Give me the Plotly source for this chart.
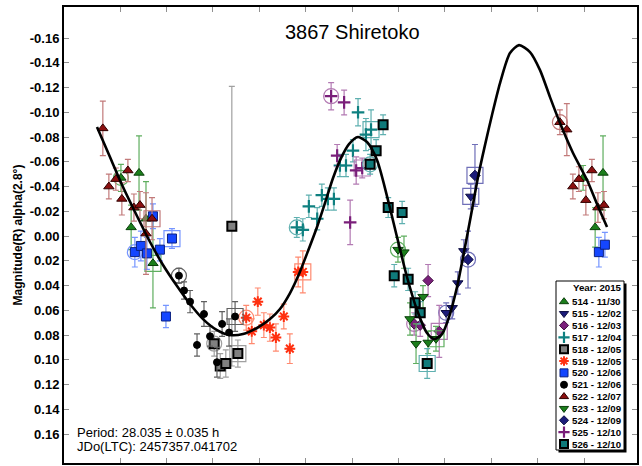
import plotly.graph_objects as go

# ---- Fourier fit (phase, magnitude) ----
fit_phase = [-0.0496, -0.0216, 0.0065, 0.0366, 0.0647, 0.0927, 0.1228, 0.1509, 0.1789, 0.2091,
             0.2371, 0.2651, 0.2953, 0.3233, 0.3448, 0.3664, 0.3858, 0.4052, 0.4246, 0.4418,
             0.4591, 0.4763, 0.4935, 0.5129, 0.5323, 0.5539, 0.5754, 0.5970, 0.6185, 0.6401,
             0.6616, 0.6767, 0.6940, 0.7091, 0.7263, 0.7414, 0.7565, 0.7716, 0.7866, 0.8017,
             0.8190, 0.8405, 0.8599, 0.8836, 0.9052, 0.9267, 0.9483, 0.9763, 1.0065, 1.0280,
             1.0496]
fit_mag = [-0.0881, -0.0638, -0.0396, -0.0162, 0.0048, 0.0234, 0.0404, 0.0549, 0.0671, 0.0760,
           0.0800, 0.0792, 0.0743, 0.0671, 0.0590, 0.0461, 0.0307, 0.0121, -0.0073, -0.0267,
           -0.0469, -0.0630, -0.0743, -0.0800, -0.0760, -0.0614, -0.0323, 0.0008, 0.0331, 0.0598,
           0.0784, 0.0832, 0.0792, 0.0655, 0.0412, 0.0129, -0.0170, -0.0477, -0.0735, -0.0978,
           -0.1236, -0.1479, -0.1543, -0.1487, -0.1341, -0.1123, -0.0913, -0.0671, -0.0453, -0.0259,
           -0.0073]

# ---- Sessions: phase, magnitude, error (first point = session start, last = session end) ----
p514 = [0.002, 0.041, 0.024, 0.056, 0.998, 1.041, 1.024, 0.071]
m514 = [-0.047, -0.051, -0.007, -0.014, -0.047, -0.051, -0.007, 0.022]
e514 = [0.011, 0.030, 0.018, 0.030, 0.010, 0.030, 0.016, 0.036]

p515 = [0.703, 0.716, 0.728, 0.741, 0.756]
m515 = [0.062, 0.058, 0.038, 0.012, -0.032]
e515 = [0.008, 0.009, 0.009, 0.009, 0.010]

p516 = [0.634, 0.647, 0.664, 0.688]
m516 = [0.071, 0.072, 0.036, 0.077]
e516 = [0.009, 0.009, 0.013, 0.021]

p517 = [0.381, 0.394, 0.407, 0.425, 0.435, 0.448, 0.461, 0.474, 0.487, 0.502, 0.513, 0.530, 0.541]
m517 = [-0.007, -0.005, -0.024, -0.014, -0.033, -0.030, -0.030, -0.057, -0.057, -0.069, -0.100, -0.082, -0.086]
e517 = [0.008, 0.009, 0.009, 0.009, 0.009, 0.009, 0.009, 0.009, 0.009, 0.009, 0.011, 0.013, 0.016]

p518 = [0.203, 0.216, 0.228, 0.241, 0.254]
m518 = [0.087, 0.105, 0.103, -0.008, 0.095]
e518 = [0.010, 0.010, 0.011, 0.113, 0.011]

p519 = [0.272, 0.284, 0.297, 0.310, 0.323, 0.336, 0.353, 0.366, 0.384, 0.394]
m519 = [0.066, 0.077, 0.053, 0.072, 0.074, 0.082, 0.065, 0.091, 0.029, 0.029]
e519 = [0.010, 0.010, 0.011, 0.010, 0.011, 0.011, 0.010, 0.012, 0.012, 0.017]

p520 = [0.032, 0.045, 0.058, 0.071, 0.086, 0.099, 1.032, 1.045, 0.112]
m520 = [0.013, 0.008, 0.014, -0.016, 0.011, 0.065, 0.013, 0.007, 0.002]
e520 = [0.012, 0.012, 0.013, 0.010, 0.009, 0.009, 0.012, 0.010, 0.008]

p521 = [0.127, 0.138, 0.151, 0.166, 0.181, 0.194, 0.209, 0.220, 0.235, 0.248]
m521 = [0.032, 0.044, 0.053, 0.088, 0.063, 0.081, 0.102, 0.071, 0.078, 0.065]
e521 = [0.006, 0.007, 0.009, 0.009, 0.010, 0.008, 0.012, 0.010, 0.011, 0.012]

p522 = [0.948, 0.963, 0.976, 0.989, 1.004, 1.017, 1.030, 1.043,
        -0.037, -0.024, -0.009, 0.004, 0.017, 0.030, 0.043, 0.056, 0.069]
m522 = [-0.092, -0.086, -0.040, -0.046, -0.029, -0.053, -0.023, -0.025,
        -0.087, -0.040, -0.046, -0.030, -0.053, -0.023, -0.025, -0.002, -0.014]
e522 = [0.010, 0.021, 0.010, 0.010, 0.012, 0.009, 0.012, 0.011,
        0.022, 0.010, 0.009, 0.013, 0.009, 0.011, 0.011, 0.033, 0.017]

p523 = [0.599, 0.612, 0.625, 0.638, 0.653, 0.664, 0.681]
m523 = [0.011, 0.013, 0.067, 0.087, 0.049, 0.086, 0.083]
e523 = [0.010, 0.013, 0.013, 0.016, 0.009, 0.009, 0.010]

p524 = [0.750, 0.765]
m524 = [0.019, -0.049]
e524 = [0.023, 0.025]

p525 = [0.455, 0.468, 0.483, 0.496, 0.509, 0.522]
m525 = [-0.113, -0.065, -0.108, -0.011, -0.053, -0.055]
e525 = [0.011, 0.009, 0.010, 0.018, 0.011, 0.008]

p526 = [0.539, 0.552, 0.567, 0.578, 0.608, 0.591, 0.621, 0.636, 0.647, 0.662]
m526 = [-0.058, -0.069, -0.090, -0.023, -0.019, 0.032, 0.035, 0.054, 0.062, 0.103]
e526 = [0.008, 0.009, 0.008, 0.008, 0.009, 0.009, 0.009, 0.009, 0.009, 0.012]

session_labels = ["514 - 11/30", "515 - 12/02", "516 - 12/03", "517 - 12/04", "518 - 12/05",
                  "519 - 12/05", "520 - 12/06", "521 - 12/06", "522 - 12/07", "523 - 12/09",
                  "524 - 12/09", "525 - 12/10", "526 - 12/10"]

y_tick_vals = [-0.16, -0.14, -0.12, -0.10, -0.08, -0.06, -0.04, -0.02, 0.00,
               0.02, 0.04, 0.06, 0.08, 0.10, 0.12, 0.14, 0.16]
y_tick_text = ["-0.16", "-0.14", "-0.12", "-0.10", "-0.08", "-0.06", "-0.04", "-0.02", "0.00",
               "0.02", "0.04", "0.06", "0.08", "0.10", "0.12", "0.14", "0.16"]
x_tick_vals = [0.0, 0.1, 0.2, 0.3, 0.4, 0.5, 0.6, 0.7, 0.8, 0.9, 1.0]

title_text = "3867 Shiretoko"
period_text = "Period: 28.035 ± 0.035 h"
epoch_text = "JDo(LTC): 2457357.041702"
legend_title = "Year: 2015"

data = [(p514, m514, e514), (p515, m515, e515), (p516, m516, e516), (p517, m517, e517),
        (p518, m518, e518), (p519, m519, e519), (p520, m520, e520), (p521, m521, e521),
        (p522, m522, e522), (p523, m523, e523), (p524, m524, e524), (p525, m525, e525),
        (p526, m526, e526)]

# marker style per session: symbol, fill, outline colour, outline width, size, error/ring colour
styles = [
    ("triangle-up", "#1b7f1b", "#0b3f0b", 1.0, 9, "#5fae5f"),
    ("triangle-down", "#1c1c7a", "#0c0c40", 1.0, 9, "#6f6fb8"),
    ("diamond", "#7a1f7a", "#401040", 1.0, 8, "#b37ab3"),
    ("cross-thin-open", "#0f8080", "#0f8080", 2.2, 9, "#5fb0b0"),
    ("square", "#808080", "#000000", 2.0, 9, "#a0a0a0"),
    ("asterisk-open", "#ff3010", "#ff3010", 2.0, 9, "#ff8a70"),
    ("square", "#1446ff", "#0a2080", 1.0, 9, "#7595ff"),
    ("circle", "#000000", "#000000", 1.0, 7, "#606060"),
    ("triangle-up", "#8b1010", "#300000", 1.0, 9, "#c27a7a"),
    ("triangle-down", "#1b7f1b", "#0b3f0b", 1.0, 9, "#5fae5f"),
    ("diamond", "#1c1c7a", "#0c0c40", 1.0, 8, "#6f6fb8"),
    ("cross-thin-open", "#7a1f7a", "#7a1f7a", 2.2, 9, "#b37ab3"),
    ("square", "#0f7a7a", "#000000", 2.0, 9, "#5fb0b0"),
]


def marker_for(style, size=None):
    sym, fill, outline, lw, sz, _ = style
    return dict(symbol=sym, size=size or sz, color=fill, line=dict(color=outline, width=lw))


fig = go.Figure()

for (ph, mg, er), st in zip(data, styles):
    light = st[5]
    # session start ring and session end box
    fig.add_trace(go.Scatter(
        x=[ph[0]], y=[mg[0]], mode="markers", showlegend=False, hoverinfo="skip",
        marker=dict(symbol="circle-open", size=15, color=light, line=dict(color=light, width=1.2))))
    fig.add_trace(go.Scatter(
        x=[ph[-1]], y=[mg[-1]], mode="markers", showlegend=False, hoverinfo="skip",
        marker=dict(symbol="square-open", size=16, color=light, line=dict(color=light, width=1.2))))
    fig.add_trace(go.Scatter(
        x=ph, y=mg, mode="markers", showlegend=False,
        error_y=dict(type="data", array=er, visible=True, color=light, thickness=1.2, width=3),
        marker=marker_for(st)))

# fitted lightcurve
fig.add_trace(go.Scatter(
    x=fit_phase, y=fit_mag, mode="lines", showlegend=False,
    line=dict(color="#000000", width=2.6, shape="spline", smoothing=0.7)))

# ---- session key drawn on a pixel-scaled overlay axis ----
ROW0, ROW_STEP = 301.7, 11.86
key_x = [564] * len(session_labels)
key_y = [ROW0 + i * ROW_STEP for i in range(len(session_labels))]
for i, st in enumerate(styles):
    fig.add_trace(go.Scatter(
        x=[key_x[i]], y=[key_y[i]], mode="markers", showlegend=False, hoverinfo="skip",
        xaxis="x2", yaxis="y2", marker=marker_for(st, size=max(st[4] - 1, 7))))

FONT = "Arial, Liberation Sans"
annotations = []
for i, lab in enumerate(session_labels):
    annotations.append(dict(x=570, y=key_y[i], xref="x2", yref="y2", text=f"<b>{lab}</b>",
                            showarrow=False, xanchor="left", yanchor="middle",
                            font=dict(family=FONT, size=9.7, color="#000000")))
annotations.append(dict(x=624, y=287.5, xref="x2", yref="y2", text=f"<b>{legend_title}</b>",
                        showarrow=False, xanchor="right", yanchor="middle",
                        font=dict(family=FONT, size=9.7, color="#000000")))
annotations.append(dict(x=352, y=32, xref="x2", yref="y2", text=title_text, showarrow=False,
                        xanchor="center", yanchor="middle",
                        font=dict(family=FONT, size=20, color="#000000")))
annotations.append(dict(x=75, y=432, xref="x2", yref="y2", text=period_text, showarrow=False,
                        xanchor="left", yanchor="middle",
                        font=dict(family=FONT, size=13, color="#000000")))
annotations.append(dict(x=75, y=446, xref="x2", yref="y2", text=epoch_text, showarrow=False,
                        xanchor="left", yanchor="middle",
                        font=dict(family=FONT, size=13, color="#000000")))

shapes = [
    dict(type="rect", xref="x2", yref="y2", x0=558.5, x1=626.5, y0=283.5, y1=452.5,
         fillcolor="#000000", line=dict(width=0), layer="below"),
    dict(type="rect", xref="x2", yref="y2", x0=556, x1=624, y0=281, y1=450,
         fillcolor="#ffffff", line=dict(color="#000000", width=1), layer="below"),
]

fig.update_layout(
    width=642, height=466,
    margin=dict(l=64, r=5, t=7, b=3),
    paper_bgcolor="#ffffff", plot_bgcolor="#ffffff",
    font=dict(family=FONT, color="#000000"),
    showlegend=False,
    annotations=annotations,
    shapes=shapes,
    xaxis=dict(range=[-0.1207, 1.1142], tickvals=x_tick_vals, showticklabels=False,
               ticks="inside", ticklen=5, tickwidth=1, tickcolor="#909090",
               showline=True, linecolor="#000000", linewidth=2, mirror="allticks",
               showgrid=False, zeroline=False),
    yaxis=dict(range=[0.1834, -0.1851], tickvals=y_tick_vals, ticktext=y_tick_text,
               ticks="inside", ticklen=5, tickwidth=1, tickcolor="#909090",
               showline=True, linecolor="#000000", linewidth=2, mirror="allticks",
               showgrid=False, zeroline=False,
               tickfont=dict(family=FONT, size=13, color="#000000", weight="bold"),
               title=dict(text="<b>Magnitude(R) alpha(2.8°)</b>", standoff=5,
                          font=dict(family=FONT, size=12, color="#000000"))),
    xaxis2=dict(range=[64, 637], overlaying="x", visible=False, showgrid=False, zeroline=False),
    yaxis2=dict(range=[463, 7], overlaying="y", visible=False, showgrid=False, zeroline=False),
)

fig.write_html("out.html")
